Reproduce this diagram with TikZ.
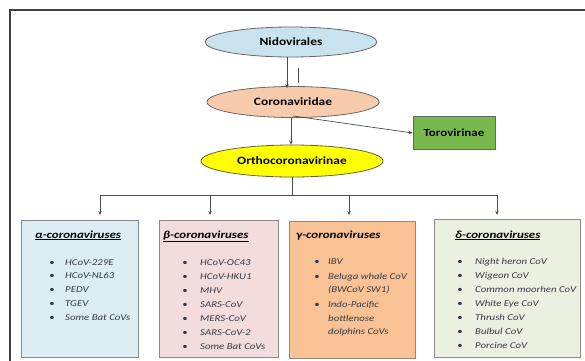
\documentclass[tikz,border=0pt]{standalone}
\usepackage{fontspec}
\setmainfont[FakeStretch=1.2]{Carlito}
\usetikzlibrary{shapes.geometric,arrows.meta}
\definecolor{nidoblue}{HTML}{C9E3EE}
\definecolor{corosalmon}{HTML}{F8CBAD}
\definecolor{orthoyellow}{HTML}{FFFF00}
\definecolor{torogreen}{HTML}{78B84C}
\definecolor{alphafill}{HTML}{DCEEF4}
\definecolor{betafill}{HTML}{F3DCDC}
\definecolor{gammafill}{HTML}{F9C295}
\definecolor{deltafill}{HTML}{EBF1E0}
\definecolor{boxline}{HTML}{8A8A8A}
\definecolor{itemtext}{HTML}{343844}
\begin{document}
\begin{tikzpicture}[x=1pt,y=-1pt,
 ell/.style={ellipse, draw=black!60, line width=0.8pt, inner sep=0, font=\bfseries\fontsize{11.2}{12}\selectfont},
 grp/.style={rectangle, draw=boxline, line width=1.2pt, anchor=north west, inner sep=0},
 ttl/.style={anchor=base west, inner sep=0, font=\bfseries\itshape\fontsize{10.8}{12}\selectfont},
 itm/.style={anchor=base west, inner sep=0, text=itemtext, font=\itshape\fontsize{9}{10}\selectfont},
 bul/.style={anchor=base, inner sep=0, text=itemtext, font=\fontsize{9}{10}\selectfont},
 arr/.style={draw=black!70, line width=0.7pt, -{Stealth[length=4pt,width=3.5pt]}},
 ln/.style={draw=black!70, line width=0.7pt}]
\useasboundingbox (0,0) rectangle (585,360);
\draw[black!75, line width=1.5pt] (10,10) rectangle (600,375);

% top nodes
\node[ell, fill=nidoblue, minimum width=172, minimum height=30] (nido) at (291,42) {Nidovirales};
\node[ell, fill=corosalmon, minimum width=172, minimum height=31] (coro) at (293,102) {Coronaviridae};
\node[ell, fill=orthoyellow, draw=black!50!yellow!60!black, minimum width=182, minimum height=32] (ortho) at (292,161) {Orthocoronavirinae};
\node[rectangle, draw=black!60, line width=0.8pt, fill=torogreen, minimum width=82, minimum height=33, font=\bfseries\fontsize{10.8}{12}\selectfont] (toro) at (454,133) {Torovirinae};

% connectors
\draw[arr] ([xshift=-4]nido.south) -- ([xshift=-6,yshift=-2]coro.north);
\coordinate (s1) at (298,68);
\coordinate (s2) at (298,83);
\draw[ln] (s1) -- (s2);
\draw[arr] ([xshift=-2]coro.south) -- ([xshift=-1]ortho.north);
\draw[arr] ([xshift=0,yshift=2]coro.south) -- (toro.west);
\coordinate (bj) at (292,195);
\draw[ln] (ortho.south) -- (bj);
\coordinate (bl) at (100,195);
\coordinate (br) at (497,195);
\draw[ln] (bl) -- (br);
\coordinate (ta) at (100,215);
\coordinate (tb) at (210,215);
\coordinate (tc) at (349,215);
\coordinate (td) at (497,215);
\draw[arr] (bl) -- (ta);
\draw[arr] (tb |- bl) -- (tb);
\draw[arr] (tc |- bl) -- (tc);
\draw[arr] (br) -- (td);

% group boxes
\node[grp, fill=alphafill, minimum width=117, minimum height=137] (alpha) at (21,220) {};
\node[grp, fill=betafill, minimum width=119, minimum height=137] (beta) at (159,220) {};
\node[grp, fill=gammafill, minimum width=126, minimum height=137] (gamma) at (289,221) {};
\node[grp, fill=deltafill, minimum width=146, minimum height=138] (delta) at (434,219) {};

% titles
\node[ttl] (ta1) at (35,238) {\underline{α-coronaviruses}};
\node[ttl] (tb1) at (163,238) {\underline{β-coronaviruses}};
\node[ttl] (tc1) at (296,238) {γ-coronaviruses};
\node[ttl] (td1) at (455,238) {\underline{δ-coronaviruses}};

% alpha items
\foreach \t [count=\i] in {HCoV-229E, HCoV-NL63, PEDV, TGEV, Some Bat CoVs}{
  \node[bul] (ab\i) at (52,{265+(\i-1)*13.8}) {\textbullet};
  \node[itm] (ai\i) at (65,{265+(\i-1)*13.8}) {\t};
}
% beta items
\foreach \t [count=\i] in {HCoV-OC43, HCoV-HKU1, MHV, SARS-CoV, MERS-CoV, SARS-CoV-2, Some Bat CoVs}{
  \node[bul] (bb\i) at (185,{265+(\i-1)*14}) {\textbullet};
  \node[itm] (bi\i) at (200,{265+(\i-1)*14}) {\t};
}
% gamma items
\node[bul] (cb1) at (317,264) {\textbullet};
\node[itm] (ci1) at (328,264) {IBV};
\node[bul] (cb2) at (317,279) {\textbullet};
\node[itm] (ci2) at (328,279) {Beluga whale CoV};
\node[itm] (ci3) at (328,292) {(BWCoV SW1)};
\node[bul] (cb3) at (317,307) {\textbullet};
\node[itm] (ci4) at (328,307) {Indo-Pacific};
\node[itm] (ci5) at (328,321) {bottlenose};
\node[itm] (ci6) at (328,334) {dolphins CoVs};
% delta items
\foreach \t [count=\i] in {Night heron CoV, Wigeon CoV, Common moorhen CoV, White Eye CoV, Thrush CoV, Bulbul CoV, Porcine CoV}{
  \node[bul] (db\i) at (460,{264+(\i-1)*14}) {\textbullet};
  \node[itm] (di\i) at (475,{264+(\i-1)*14}) {\t};
}
\end{tikzpicture}
\end{document}
